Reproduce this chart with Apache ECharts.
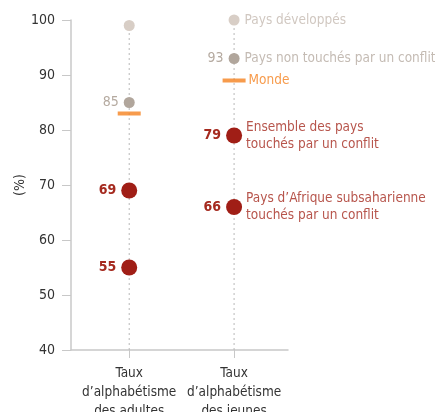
<!DOCTYPE html>
<html>
<head>
<meta charset="utf-8">
<script src="https://cdn.jsdelivr.net/npm/echarts@6/dist/echarts.min.js"></script>
<style>
  html, body { margin: 0; padding: 0; background: #fff; }
  #chart { width: 435px; height: 412px; }
</style>
</head>
<body>
<div id="chart"></div>
<script>
// categories (x positions 0 and 1)
const categories = ['Taux\nd’alphabétisme\ndes adultes', 'Taux\nd’alphabétisme\ndes jeunes'];
const yTicks = [40, 50, 60, 70, 80, 90, 100];

// values (%)
const developpes = [99, 100];
const nonTouches = [85, 93];
const monde = [83, 89];
const conflit = [69, 79];
const afrique = [55, 66];

const names = {
  developpes: 'Pays développés',
  nonTouches: 'Pays non touchés par un conflit',
  monde: 'Monde',
  conflit: 'Ensemble des pays\ntouchés par un conflit',
  afrique: 'Pays d’Afrique subsaharienne\ntouchés par un conflit'
};

// pick a condensed face if it is installed
function hasFont(fam) {
  const ctx = document.createElement('canvas').getContext('2d');
  const s = 'abcdefghijklmnopqrstuvwxyz0123456789';
  ctx.font = '20px monospace';
  const w0 = ctx.measureText(s).width;
  ctx.font = '20px "' + fam + '", monospace';
  return ctx.measureText(s).width !== w0;
}
const FONT = ['Liberation Sans Narrow', 'DejaVu Sans Condensed', 'Roboto'].find(hasFont) || 'sans-serif';
const narrow = FONT === 'Liberation Sans Narrow';
const FS = narrow ? 15 : 13.5;
const FS_TICK = narrow ? 16 : 14;

const RED = '#a01e16';
const RED_TXT = '#a52a1f';

const chart = echarts.init(document.getElementById('chart'));

function pts(arr) {
  return arr.map((v, i) => [i, v]);
}

// a dot series with the value shown on the left
function dots(name, arr, color, size, txtColor, showValue, bold) {
  return {
    name: name,
    type: 'scatter',
    data: pts(arr),
    symbolSize: size,
    itemStyle: { color: color, opacity: 1 },
    z: 5,
    label: {
      show: showValue,
      position: 'left',
      distance: 5,
      formatter: p => p.value[1],
      color: txtColor,
      fontFamily: FONT,
      fontSize: FS_TICK,
      fontWeight: bold ? 'bold' : 'normal'
    }
  };
}

// transparent twin carrying the series name on the right of column 2
function nameLabel(key, arr, size, txtColor, dist) {
  return {
    type: 'scatter',
    silent: true,
    data: [{ value: [1, arr[1]] }],
    symbol: Array.isArray(size) ? 'rect' : 'circle',
    symbolSize: size,
    itemStyle: { color: 'rgba(0,0,0,0)' },
    z: 6,
    label: {
      show: true,
      position: 'right',
      distance: dist,
      formatter: names[key],
      color: txtColor,
      fontFamily: FONT,
      fontSize: FS,
      lineHeight: 17
    }
  };
}

const stems = categories.map((c, i) => ({
  type: 'line',
  silent: true,
  symbol: 'none',
  data: [[i, yTicks[0]], [i, Math.max(developpes[i], nonTouches[i], monde[i], conflit[i], afrique[i])]],
  lineStyle: { color: '#b8b8b8', width: 1, type: [2, 3] },
  z: 1
}));

chart.setOption({
  animation: false,
  grid: { left: 71, right: 147, top: 20, bottom: 62, outerBoundsMode: 'none', containLabel: false },
  xAxis: {
    type: 'value',
    min: -0.555,
    max: 1.514,
    splitLine: { show: false },
    axisLine: { show: true, onZero: false, lineStyle: { color: '#c8c8c8', width: 1.5 } },
    axisTick: { show: true, length: 8, customValues: [0, 1], lineStyle: { color: '#c8c8c8' } },
    axisLabel: {
      customValues: [0, 1],
      formatter: v => categories[Math.round(v)],
      color: '#333',
      fontFamily: FONT,
      fontSize: FS,
      lineHeight: 19,
      margin: 14
    }
  },
  yAxis: {
    type: 'value',
    min: 40,
    max: 100,
    interval: 10,
    name: '(%)',
    nameLocation: 'middle',
    nameRotate: 90,
    nameGap: 44,
    nameTextStyle: { color: '#333', fontFamily: FONT, fontSize: FS_TICK },
    splitLine: { show: false },
    axisLine: { show: true, onZero: false, lineStyle: { color: '#c8c8c8', width: 1.5 } },
    axisTick: { show: true, length: 9, lineStyle: { color: '#c8c8c8' } },
    axisLabel: { color: '#333', fontFamily: FONT, fontSize: FS_TICK, margin: 16 }
  },
  series: [
    ...stems,
    dots('developpes', developpes, '#d8cec6', 11, '#c4b9b0', false, false),
    dots('nonTouches', nonTouches, '#b1a69c', 11, '#b5aaa0', true, false),
    {
      name: 'monde',
      type: 'scatter',
      data: pts(monde),
      symbol: 'rect',
      symbolSize: [23, 4],
      itemStyle: { color: '#f5821f' },
      z: 5
    },
    dots('conflit', conflit, RED, 16, RED_TXT, true, true),
    dots('afrique', afrique, RED, 16, RED_TXT, true, true),
    nameLabel('developpes', developpes, 11, '#c4b9b0', 5),
    nameLabel('nonTouches', nonTouches, 11, '#b5aaa0', 5),
    nameLabel('monde', monde, [23, 4], '#f5821f', 3),
    nameLabel('conflit', conflit, 16, RED_TXT, 4),
    nameLabel('afrique', afrique, 16, RED_TXT, 4)
  ]
});
</script>
</body>
</html>
